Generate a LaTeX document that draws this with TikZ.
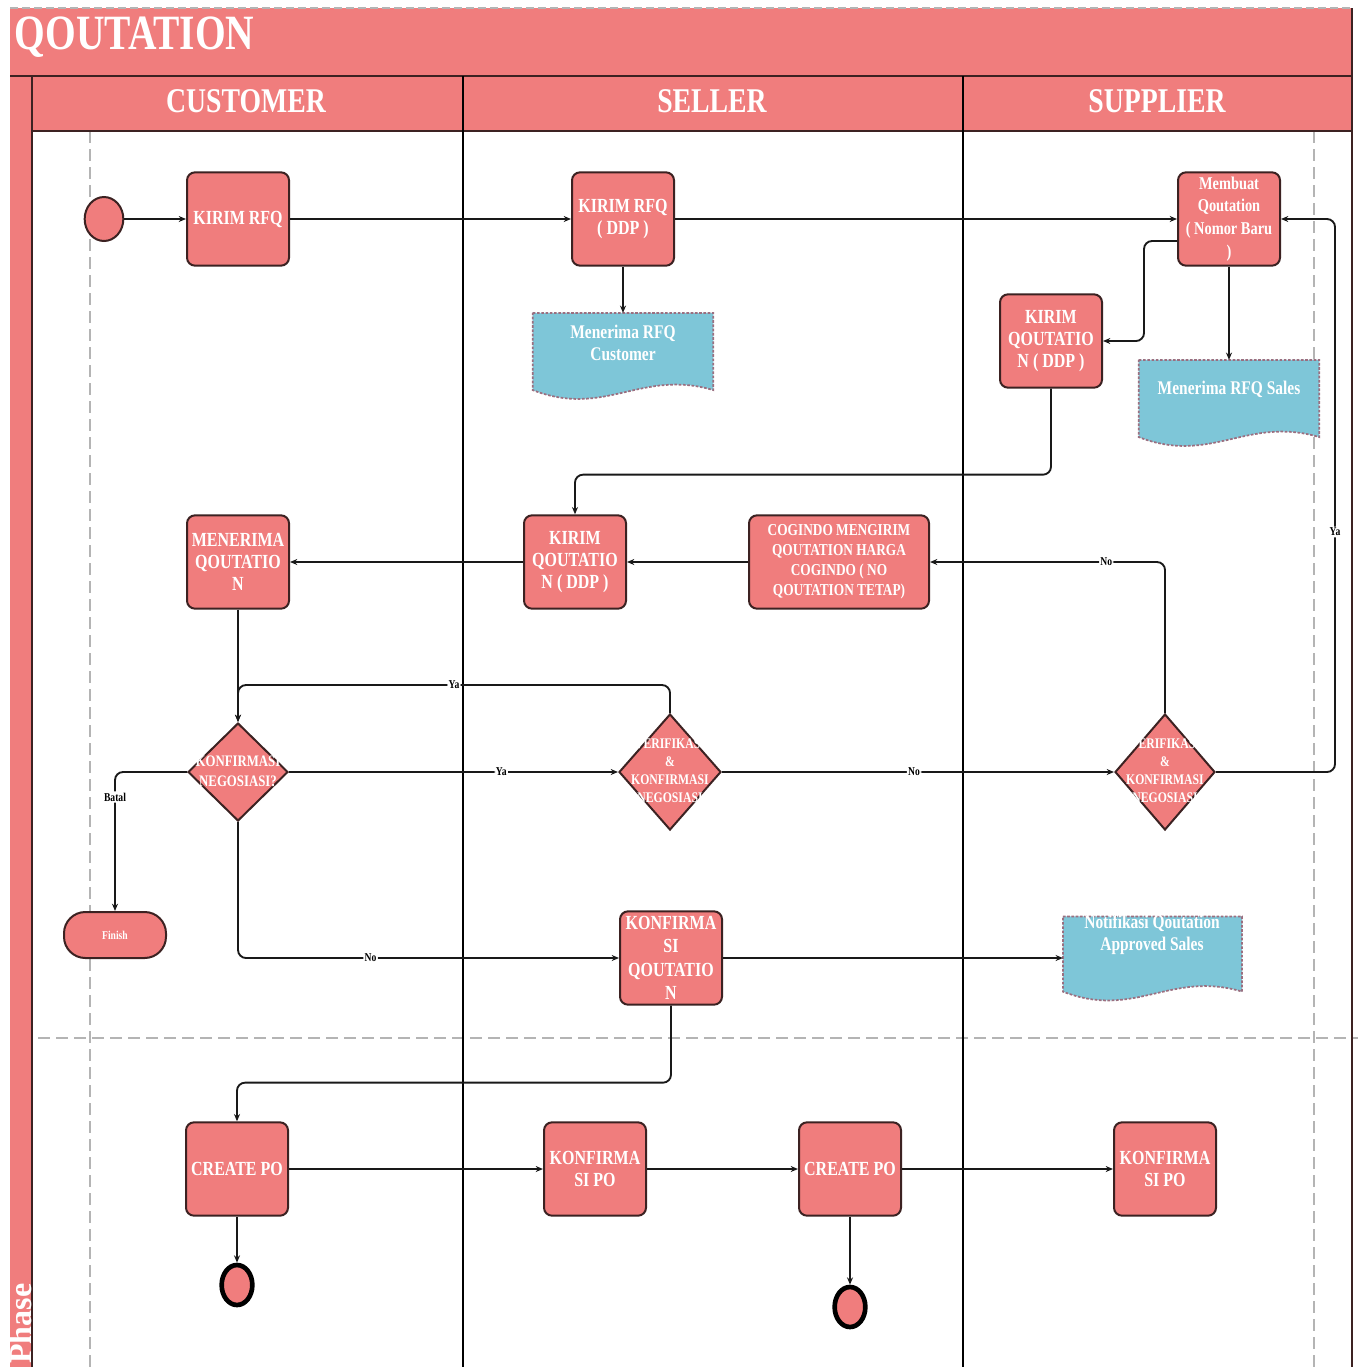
\documentclass[tikz,border=0pt]{standalone}
\usepackage{fontspec}
\newfontfamily\cf{Liberation Serif}[FakeStretch=0.8]
\newfontfamily\pf{Liberation Serif}
\usetikzlibrary{shapes.geometric,arrows.meta,calc}

\definecolor{salmon}{HTML}{F07D7D}
\definecolor{edgecol}{HTML}{3C2222}
\definecolor{docblue}{HTML}{7EC6D8}
\definecolor{docline}{HTML}{9B6F80}
\definecolor{guide}{HTML}{B4B4B4}

% wavy "document" outline around an (empty) named node
\newcommand\wavydoc[1]{%
  \path[docshape] let \p1=(#1.north west), \p2=(#1.south east) in
    (\x1,\y1) -- (\x2,\y1) -- ({\x2},{\y2+6pt})
    .. controls ({\x1+0.6*(\x2-\x1)},{\y2+22pt}) and ({\x1+0.4*(\x2-\x1)},{\y2-15pt}) ..
    ({\x1},{\y2+6pt}) -- cycle;}

\begin{document}
\begin{tikzpicture}[x=0.75pt,y=-0.75pt,
  proc/.style={draw=edgecol, line width=1.5pt, fill=salmon, rounded corners=6pt,
    minimum width=76.5pt, minimum height=70pt, inner sep=1pt, align=center,
    text=white, font=\cf\bfseries\fontsize{15}{16.5}\selectfont},
  decision/.style={diamond, draw=edgecol, line width=1.5pt, fill=salmon, inner sep=0pt},
  dtext/.style={text=white, align=center},
  docnode/.style={minimum width=135pt, minimum height=63.5pt, inner sep=0pt},
  docshape/.style={fill=docblue, draw=docline, line width=1.3pt, dash pattern=on 2pt off 1.2pt},
  doctext/.style={text=white, align=center, font=\cf\bfseries\fontsize{14.5}{16.5}\selectfont},
  conn/.style={draw=black!90, line width=1.4pt, rounded corners=6pt, -{Stealth[length=5.5pt,width=4.5pt]}},
  lbl/.style={fill=white, inner sep=1pt, text=black, font=\cf\bfseries\fontsize{9}{10}\selectfont},
  lane/.style={draw=edgecol, line width=1.2pt},
  guideline/.style={draw=guide, line width=0.9pt, dash pattern=on 9pt off 4.5pt},
  endnode/.style={ellipse, draw=black, line width=3.5pt, fill=salmon, minimum width=23pt, minimum height=30pt, inner sep=0pt}
]
\useasboundingbox (0,0) rectangle (1358,1367);

% ---- pool frame ----
\fill[salmon] (10,8) rectangle (1352,76);
\fill[salmon] (10,76) rectangle (32,1367);
\fill[salmon] (32,76) rectangle (1352,131);
\draw[guide, line width=1pt, dash pattern=on 6pt off 3pt] (10,8) -- (1352,8);

% dashed guides
\draw[guideline] (90,131) -- (90,1367);
\draw[guideline] (1314,131) -- (1314,1367);
\draw[guideline] (38,1038) -- (1358,1038);

% lane borders
\draw[lane] (10,76) -- (1352,76);
\draw[lane] (32,131) -- (1352,131);
\draw[lane] (32,76) -- (32,1367);
\draw[lane] (1352,8) -- (1352,1367);
\draw[draw=black, line width=1.1pt] (463,76) -- (463,1367);
\draw[draw=black, line width=1.1pt] (963,76) -- (963,1367);

% titles
\node[anchor=west, text=white, font=\cf\bfseries\fontsize{37}{38}\selectfont] (ttl) at (10,37) {QOUTATION};
\node[text=white, font=\cf\bfseries\fontsize{26}{28}\selectfont] (hcust) at (246,101) {CUSTOMER};
\node[text=white, font=\cf\bfseries\fontsize{26}{28}\selectfont] (hsell) at (712,101) {SELLER};
\node[text=white, font=\cf\bfseries\fontsize{26}{28}\selectfont] (hsupp) at (1157,101) {SUPPLIER};
\node[rotate=90, anchor=west, text=white, font=\pf\bfseries\fontsize{24}{26}\selectfont, inner sep=0pt] (phase) at (21,1364) {Phase};

% ---- activities ----
\node[ellipse, draw=edgecol, line width=1.5pt, fill=salmon, minimum width=29pt, minimum height=33pt, inner sep=0pt] (start) at (104,219) {};
\node[proc] (krfq) at (238,219) {KIRIM RFQ};
\node[proc] (krfqd) at (623,219) {KIRIM RFQ\\( DDP )};
\node[proc, font=\cf\bfseries\fontsize{13.5}{17}\selectfont] (memb) at (1229,219) {Membuat\\Qoutation\\( Nomor Baru\\)};
\node[proc] (kqs) at (1051,341) {KIRIM\\QOUTATIO\\N ( DDP )};
\node[proc] (kqsel) at (575,562) {KIRIM\\QOUTATIO\\N ( DDP )};
\node[proc, minimum width=135pt, font=\cf\bfseries\fontsize{12.5}{15}\selectfont] (cog) at (839,562) {COGINDO MENGIRIM\\QOUTATION HARGA\\COGINDO ( NO\\QOUTATION TETAP)};
\node[proc] (mener) at (238,562) {MENERIMA\\QOUTATIO\\N};
\node[proc, font=\cf\bfseries\fontsize{15}{17.5}\selectfont] (kq) at (671,958) {KONFIRMA\\SI\\QOUTATIO\\N};
\node[proc] (cpo1) at (237,1169) {CREATE PO};
\node[proc] (kpo1) at (595,1169) {KONFIRMA\\SI PO};
\node[proc] (cpo2) at (850,1169) {CREATE PO};
\node[proc] (kpo2) at (1165,1169) {KONFIRMA\\SI PO};

% decisions
\node[decision, minimum width=75pt, minimum height=73.5pt] (dia1) at (238,772) {};
\node[dtext, font=\cf\bfseries\fontsize{12}{15}\selectfont] (dia1t) at (238,771) {KONFIRMASI\\NEGOSIASI?};
\node[decision, minimum width=76.5pt, minimum height=87pt] (dia2) at (670,772) {};
\node[dtext, font=\cf\bfseries\fontsize{11}{13.5}\selectfont] (dia2t) at (670,771) {VERIFIKASI\\\&\\KONFIRMASI\\NEGOSIASI};
\node[decision, minimum width=75pt, minimum height=87pt] (dia3) at (1165,772) {};
\node[dtext, font=\cf\bfseries\fontsize{11}{13.5}\selectfont] (dia3t) at (1165,771) {VERIFIKASI\\\&\\KONFIRMASI\\NEGOSIASI};

% terminators
\node[draw=edgecol, line width=1.5pt, fill=salmon, rounded corners=16pt, minimum width=76.5pt,
  minimum height=34.5pt, text=white, font=\cf\bfseries\fontsize{9}{10}\selectfont] (fin) at (115,935) {Finish};
\node[endnode] (end1) at (237,1285) {};
\node[endnode] (end2) at (850,1307) {};

% documents
\node[docnode] (doc1) at (623,355.5) {};
\wavydoc{doc1}
\node[doctext] (doc1t) at (623,343) {Menerima RFQ\\Customer};
\node[docnode] (doc2) at (1229,402.5) {};
\wavydoc{doc2}
\node[doctext] (doc2t) at (1229,389) {Menerima RFQ Sales};
\node[docnode, minimum width=134pt, minimum height=62pt] (doc3) at (1152.5,958) {};
\wavydoc{doc3}
\node[doctext] (doc3t) at (1152,935) {Notifikasi Qoutation\\Approved Sales};

% ---- connectors ----
\draw[conn] (start) -- (krfq);
\draw[conn] (krfq) -- (krfqd);
\draw[conn] (krfqd) -- (doc1);
\draw[conn] (krfqd) -- (memb);
\draw[conn] ([yshift=-16.5pt]memb.west) -- ++(-33,0) |- (kqs.east);
\draw[conn] (memb) -- (doc2);
\draw[conn] (kqs.south) -- ++(0,86) -| (kqsel.north);
\draw[conn] (kqsel) -- (mener);
\draw[conn] (cog) -- (kqsel);
\draw[conn] (mener) -- (dia1);
\draw[conn] (dia1.east) -- node[lbl, pos=0.645] {Ya} (dia2.west);
\draw[conn] (dia2.north) -- ++(0,-28) -| node[lbl, pos=0.25] {Ya} (dia1.north);
\draw[conn] (dia2.east) -- node[lbl, pos=0.49] {No} (dia3.west);
\draw[conn] (dia3.north) |- node[lbl, pos=0.625] {No} (cog.east);
\draw[conn] (dia3.east) -- ++(119,0) |- node[lbl, pos=0.217] {Ya} (memb.east);
\draw[conn] (dia1.west) -| node[lbl, pos=0.59] {Batal} (fin.north);
\draw[conn] (dia1.south) |- node[lbl, pos=0.674] {No} (kq.west);
\draw[conn] (kq) -- (doc3.west);
\draw[conn] (kq.south) -- ++(0,77) -| (cpo1.north);
\draw[conn] (cpo1) -- (kpo1);
\draw[conn] (kpo1) -- (cpo2);
\draw[conn] (cpo2) -- (kpo2);
\draw[conn] (cpo1) -- (end1);
\draw[conn] (cpo2) -- (end2);
\end{tikzpicture}
\end{document}
